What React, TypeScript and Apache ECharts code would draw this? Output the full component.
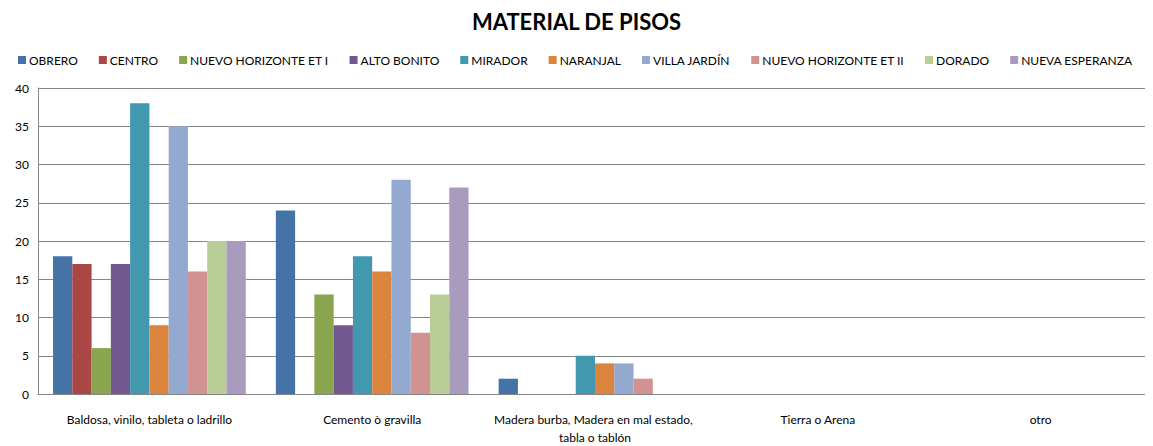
import React, { useEffect, useRef } from "react";
import * as echarts from "echarts";

const categories = [
  "Baldosa, vinilo, tableta o ladrillo",
  "Cemento ò gravilla",
  "Madera burba, Madera en mal estado, tabla o tablón",
  "Tierra o Arena",
  "otro",
];

const seriesNames = [
  "OBRERO",
  "CENTRO",
  "NUEVO HORIZONTE ET I",
  "ALTO BONITO",
  "MIRADOR",
  "NARANJAL",
  "VILLA JARDÍN",
  "NUEVO HORIZONTE ET II",
  "DORADO",
  "NUEVA ESPERANZA",
];

const obrero = [18, 24, 2, 0, 0];
const centro = [17, 0, 0, 0, 0];
const nuevoHorizonte1 = [6, 13, 0, 0, 0];
const altoBonito = [17, 9, 0, 0, 0];
const mirador = [38, 18, 5, 0, 0];
const naranjal = [9, 16, 4, 0, 0];
const villaJardin = [35, 28, 4, 0, 0];
const nuevoHorizonte2 = [16, 8, 2, 0, 0];
const dorado = [20, 13, 0, 0, 0];
const nuevaEsperanza = [20, 27, 0, 0, 0];

const seriesValues = [
  obrero,
  centro,
  nuevoHorizonte1,
  altoBonito,
  mirador,
  naranjal,
  villaJardin,
  nuevoHorizonte2,
  dorado,
  nuevaEsperanza,
];

const colors = [
  "#4572A7",
  "#AA4643",
  "#89A54E",
  "#71588F",
  "#4198AF",
  "#DB843D",
  "#93A9CF",
  "#D19392",
  "#B9CD96",
  "#A99BBD",
];

const FONT = "Lato, 'Open Sans', sans-serif";

export default function App() {
  const ref = useRef<HTMLDivElement>(null);
  useEffect(() => {
    if (!ref.current) return;
    const chart = echarts.init(ref.current, undefined, { renderer: "svg" });
    chart.setOption({
      animation: false,
      color: colors,
      title: {
        text: "MATERIAL DE PISOS",
        left: "center",
        top: 5,
        textStyle: {
          fontFamily: FONT,
          fontWeight: "bold",
          fontSize: 22,
          color: "#000",
        },
      },
      legend: {
        top: 54,
        left: 18,
        right: 0,
        icon: "rect",
        itemWidth: 8,
        itemHeight: 8,
        itemGap: 21,
        padding: 0,
        textStyle: { fontFamily: FONT, fontSize: 12, color: "#000", padding: [0, 0, 0, -2] },
        data: seriesNames,
      },
      grid: { left: 38, right: 1, top: 88, bottom: 50, containLabel: false },
      xAxis: {
        type: "category",
        data: categories,
        axisLine: { lineStyle: { color: "#868686" } },
        axisTick: { show: false },
        axisLabel: {
          fontFamily: FONT,
          fontSize: 12,
          color: "#000",
          margin: 16,
          lineHeight: 18,
          width: 212,
          overflow: "break",
          interval: 0,
        },
      },
      yAxis: {
        type: "value",
        min: 0,
        max: 40,
        interval: 5,
        axisLine: { show: true, lineStyle: { color: "#868686" } },
        axisTick: { show: false },
        splitLine: { lineStyle: { color: "#868686", width: 1 } },
        axisLabel: { fontFamily: FONT, fontSize: 12, color: "#000", margin: 9 },
      },
      series: seriesNames.map((name, i) => ({
        name,
        type: "bar",
        data: seriesValues[i],
        barGap: "0%",
        barCategoryGap: "13.5%",
        itemStyle: { color: colors[i] },
      })),
    });
    return () => chart.dispose();
  }, []);
  return (
    <div
      ref={ref}
      style={{ width: 1153, height: 446, marginLeft: -8, marginTop: -8 }}
    />
  );
}
